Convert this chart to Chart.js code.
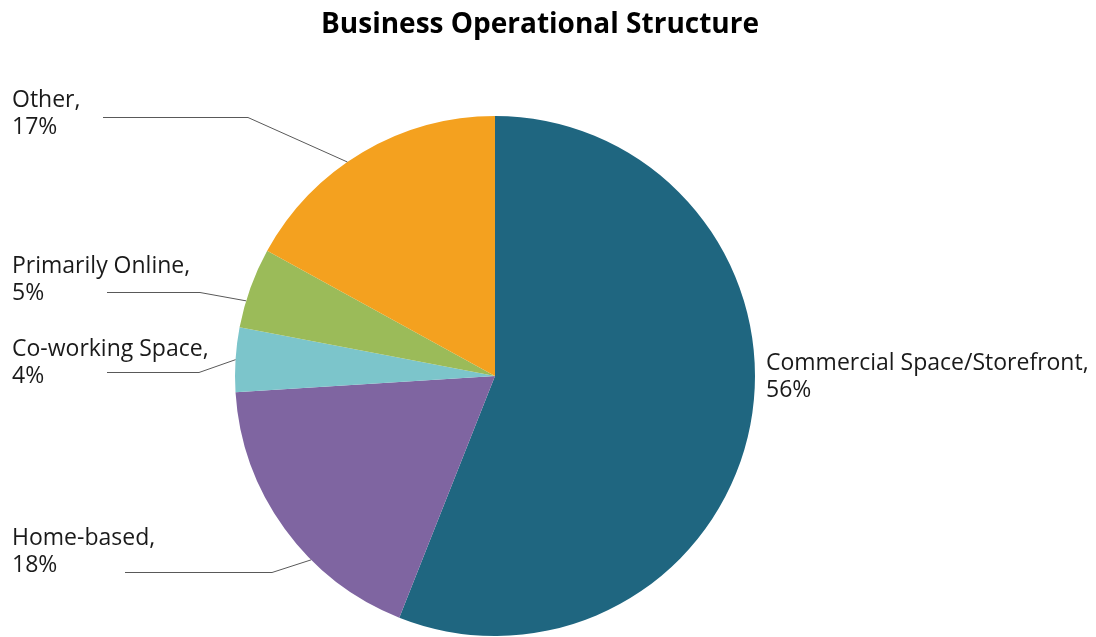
<!DOCTYPE html>
<html>
<head>
<meta charset="utf-8">
<title>Business Operational Structure</title>
<script src="https://cdn.jsdelivr.net/npm/chart.js@4.4.1/dist/chart.umd.min.js"></script>
<style>
  html, body { margin: 0; padding: 0; background: #ffffff; }
  #wrap { width: 1096px; height: 637px; position: relative; }
</style>
</head>
<body>
<div id="wrap"><canvas id="pieChart" width="1096" height="637"></canvas></div>
<script>
// Slice order runs clockwise from 12 o'clock
const categories = ["Commercial Space/Storefront", "Home-based", "Co-working Space", "Primarily Online", "Other"]
const shares = [56, 18, 4, 5, 17]
const sliceColors = ["#1f6680", "#7f65a1", "#7cc5cb", "#9bbb59", "#f4a11f"]

const chartTitle = "Business Operational Structure"

// Where each label sits and how its leader line bends (null = no leader)
const labelSpots = [
  { x: 766, y: 370, leader: null },
  { x: 12, y: 545, leader: { from: 125, elbow: 272, y: 572, shift: -9 } },
  { x: 12, y: 356, leader: { from: 107, elbow: 199, y: 372, shift: 0 } },
  { x: 12, y: 273, leader: { from: 107, elbow: 200, y: 292, shift: -3 } },
  { x: 12, y: 107, leader: { from: 103, elbow: 248, y: 117, shift: -4 } },
]

const FONT = "'Open Sans', 'Noto Sans', sans-serif"

const pieLabels = {
  id: "pieLabels",
  afterDraw(chart) {
    const ctx = chart.ctx
    const meta = chart.getDatasetMeta(0)

    ctx.save()
    // title
    ctx.fillStyle = "#000000"
    ctx.font = "bold 28px " + FONT
    ctx.textAlign = "center"
    ctx.textBaseline = "alphabetic"
    ctx.fillText(chartTitle, 540, 33)

    meta.data.forEach((arc, i) => {
      const spot = labelSpots[i]
      const value = chart.data.datasets[0].data[i]

      if (spot.leader) {
        const mid = (arc.startAngle + arc.endAngle) / 2 + spot.leader.shift * Math.PI / 180
        const ex = arc.x + Math.cos(mid) * arc.outerRadius
        const ey = arc.y + Math.sin(mid) * arc.outerRadius
        ctx.strokeStyle = "#595959"
        ctx.lineWidth = 1
        ctx.beginPath()
        ctx.moveTo(spot.leader.from, spot.leader.y + 0.5)
        ctx.lineTo(spot.leader.elbow, spot.leader.y + 0.5)
        ctx.lineTo(ex, ey)
        ctx.stroke()
      }

      ctx.fillStyle = "#1a1a1a"
      ctx.font = "23px " + FONT
      ctx.textAlign = "left"
      ctx.fillText(chart.data.labels[i] + ",", spot.x, spot.y)
      ctx.fillText(value + "%", spot.x, spot.y + 27)
    })
    ctx.restore()
  },
}

function drawChart() {
  const ctx = document.getElementById("pieChart").getContext("2d")
  new Chart(ctx, {
    type: "pie",
    data: {
      labels: categories,
      datasets: [
        {
          data: shares,
          backgroundColor: sliceColors,
          borderWidth: 0,
        },
      ],
    },
    options: {
      responsive: false,
      animation: false,
      devicePixelRatio: 1,
      layout: {
        padding: { top: 116, bottom: 1, left: 235, right: 341 },
      },
      plugins: {
        legend: { display: false },
        title: { display: false },
        tooltip: { enabled: false },
      },
    },
    plugins: [pieLabels],
  })
}

Promise.all([
  document.fonts.load("23px 'Open Sans'"),
  document.fonts.load("bold 28px 'Open Sans'"),
]).then(drawChart, drawChart)
</script>
</body>
</html>
